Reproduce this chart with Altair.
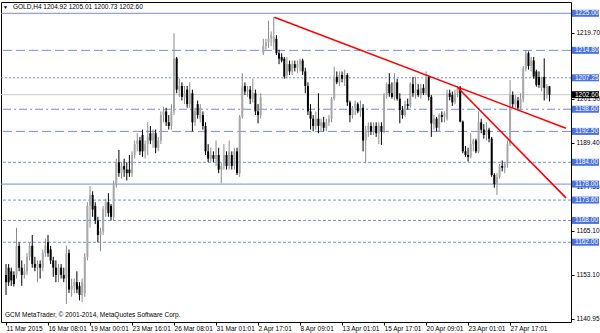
import json
import altair as alt
import pandas as pd

# ---------------- data ----------------
opens = [
    1153, 1155, 1154, 1153, 1153, 1161, 1155, 1153, 1154, 1158, 1161, 1156, 1155, 1156, 1155, 1159,
    1162, 1160, 1157, 1155, 1153, 1155, 1153, 1152, 1159, 1149, 1150, 1151, 1150, 1147.5, 1148, 1158,
    1172, 1175, 1172, 1168, 1164, 1165, 1171, 1173, 1172, 1169, 1178, 1184, 1181, 1183, 1182, 1182,
    1181, 1186, 1189, 1190, 1191.5, 1187, 1189, 1192, 1190, 1192, 1188, 1190, 1197, 1198, 1195, 1194,
    1198, 1212.6, 1204, 1205, 1202, 1204, 1200, 1203, 1195, 1200, 1196, 1197, 1194, 1187, 1185, 1186,
    1185, 1186, 1182, 1183, 1186, 1183, 1186, 1183, 1187, 1181, 1196.5, 1205, 1203.5, 1204, 1201.5, 1203,
    1198, 1197, 1214, 1216, 1217, 1218, 1217, 1218, 1214, 1213, 1212.5, 1208, 1211, 1209, 1211, 1210,
    1211, 1212, 1209, 1205, 1198, 1196, 1194, 1196, 1194, 1195, 1193.5, 1195, 1196, 1201.5, 1207.5, 1206,
    1208, 1207, 1208, 1200.5, 1197, 1199, 1200, 1198, 1199, 1190, 1193, 1194, 1192.5, 1194, 1192, 1194,
    1192.5, 1202.5, 1205.5, 1203, 1202, 1206, 1201.5, 1198.4, 1197, 1200, 1199.5, 1205.5, 1203, 1204, 1202.5, 1204.5,
    1203, 1207.5, 1202, 1194.5, 1196, 1193.5, 1197, 1196.5, 1196, 1203, 1202.5, 1200.5, 1203, 1204.5, 1195.2, 1187,
    1186, 1185.5, 1189, 1190, 1187, 1195, 1193, 1191.5, 1193, 1190.5, 1180.5, 1178, 1180, 1183, 1182.5, 1183.5,
    1189, 1202.5, 1200, 1201, 1199, 1201.5, 1209.8, 1214, 1210.5, 1212, 1209, 1207.5, 1204.5, 1207.5, 1202.5, 1204.92,
]
highs = [
    1156, 1156, 1155, 1154, 1166, 1162, 1157, 1156, 1159, 1162, 1164, 1158, 1157, 1157, 1160, 1163,
    1164, 1161, 1158, 1157, 1156, 1156, 1155, 1161, 1160, 1152, 1152, 1154, 1151, 1152, 1159, 1173,
    1177.5, 1176, 1173, 1169, 1166, 1172, 1174, 1175.5, 1172.5, 1179, 1185, 1187.4, 1184, 1185, 1184, 1186,
    1187, 1190, 1192, 1191, 1193, 1190, 1195, 1194, 1193, 1193, 1191, 1198, 1199.3, 1199, 1197, 1200,
    1219.5, 1213, 1207, 1206, 1205, 1205, 1206, 1204, 1199, 1201, 1200, 1198, 1195, 1189, 1188, 1187,
    1190, 1188, 1184, 1189, 1187, 1190, 1187, 1188, 1188, 1197, 1208.5, 1206, 1205, 1205, 1207, 1204,
    1200, 1203, 1218, 1218, 1223, 1220, 1224, 1219, 1215, 1214, 1213, 1213, 1212, 1212, 1212, 1212,
    1212.5, 1212.5, 1210, 1206, 1200, 1197, 1198, 1203, 1196, 1196.5, 1196, 1197, 1202, 1210.3, 1209, 1209,
    1209, 1209.5, 1208.5, 1201, 1199.5, 1201, 1200.5, 1201, 1200, 1194, 1195, 1195, 1195, 1195, 1195, 1195,
    1203, 1206, 1208.5, 1206, 1208.5, 1207, 1203, 1199.5, 1201, 1201.5, 1206, 1207.5, 1207.6, 1205.5, 1205.5, 1205.5,
    1209, 1208, 1202.5, 1197, 1196.5, 1197.5, 1198, 1198, 1204, 1204, 1203.5, 1204, 1205, 1205, 1195.5, 1188.5,
    1188, 1192, 1190.5, 1190.5, 1198, 1196, 1194.5, 1195, 1193.5, 1191, 1181, 1181, 1183.5, 1184.5, 1184, 1190,
    1206.6, 1203.5, 1202.5, 1202, 1203, 1210.5, 1214.9, 1214.5, 1213, 1213, 1209.5, 1209, 1207.5, 1212.6, 1205.5, 1205.01,
]
lows = [
    1147.5, 1150, 1150, 1149.8, 1152, 1154, 1150, 1152, 1153, 1157, 1155, 1154, 1151, 1152, 1154, 1158,
    1158, 1156, 1152.5, 1151, 1151, 1152, 1151, 1145, 1148, 1147, 1148, 1148, 1146, 1145.5, 1147, 1157,
    1166, 1169, 1167, 1162, 1159.5, 1164, 1169, 1169, 1168, 1168, 1177, 1180, 1179.5, 1180, 1179, 1180,
    1180, 1185, 1187, 1186, 1185.5, 1185, 1186, 1189, 1188, 1186.5, 1187, 1189, 1195, 1194, 1193, 1193,
    1197, 1203, 1202, 1201, 1200, 1199, 1199, 1192.5, 1194, 1196, 1195, 1193, 1186, 1184, 1184, 1184,
    1183, 1181, 1178.2, 1182, 1182, 1182, 1182, 1182, 1180.5, 1180, 1196, 1202.5, 1202, 1200, 1200.5, 1197,
    1194.7, 1196, 1213.5, 1215, 1215.5, 1216, 1215, 1213.5, 1211, 1211.5, 1207, 1207, 1208, 1208, 1209, 1208.5,
    1209, 1208, 1203, 1197, 1193, 1192.5, 1193, 1192, 1192.5, 1192.5, 1192.5, 1194, 1195, 1201, 1205.5, 1205,
    1206, 1205, 1199.5, 1195, 1196, 1197, 1197.5, 1196.5, 1187, 1183.7, 1191, 1191.5, 1191.5, 1191, 1189, 1188.8,
    1192, 1201.5, 1202, 1201.5, 1201, 1201, 1194.7, 1196, 1196.5, 1198.5, 1199, 1202, 1201.5, 1202, 1201.5, 1202.5,
    1202.5, 1201, 1191, 1193, 1192.5, 1192.4, 1195, 1195, 1195.5, 1201, 1199.5, 1200, 1202, 1195, 1186.5, 1185.5,
    1184.2, 1185, 1187, 1186.5, 1186.5, 1192, 1190.5, 1190, 1189.5, 1180, 1177, 1175, 1179.5, 1181.5, 1181, 1182.5,
    1188.5, 1199, 1199, 1198.5, 1198.5, 1200.5, 1209, 1209.5, 1209, 1207, 1204.8, 1204.5, 1203.5, 1201, 1201.5, 1200.73,
]
closes = [
    1151, 1151, 1151.5, 1150.5, 1161, 1155, 1153, 1154, 1158, 1161, 1156, 1155, 1156, 1155, 1159, 1161,
    1159, 1157, 1155, 1153, 1155, 1153, 1152, 1159, 1149, 1150, 1151, 1149, 1147.5, 1151, 1158, 1172,
    1175, 1171, 1168, 1164, 1165, 1171, 1173, 1170, 1169, 1178, 1184, 1181, 1183, 1182, 1181, 1181,
    1186, 1189, 1190, 1187, 1187, 1189, 1191, 1190, 1192, 1188, 1190, 1197, 1198, 1195, 1194, 1198,
    1212.6, 1204, 1205, 1202, 1203, 1200, 1203, 1195, 1198, 1197, 1199, 1194, 1187, 1185, 1186, 1185,
    1186, 1182, 1183, 1186, 1183, 1187, 1183, 1187, 1181, 1196.5, 1204.8, 1203.5, 1204, 1201.5, 1203, 1198,
    1197, 1202, 1216, 1217, 1218, 1219, 1218.5, 1214, 1212.5, 1212, 1207.6, 1211, 1209, 1211, 1210, 1211,
    1212, 1209, 1205, 1198, 1196, 1194, 1196, 1194, 1195, 1193.5, 1195, 1196, 1201.5, 1207.5, 1206, 1208,
    1207, 1208, 1200.5, 1197, 1199, 1200, 1198, 1199, 1190, 1193, 1194, 1192.5, 1194, 1192, 1194, 1192.5,
    1202.5, 1205.5, 1203, 1202, 1206, 1201.5, 1198.4, 1197, 1200, 1199.5, 1205.5, 1203, 1204, 1202.5, 1204.5, 1203,
    1207.5, 1202, 1194.7, 1196, 1193.5, 1197, 1196.5, 1197.5, 1203, 1202, 1200.5, 1203, 1204.5, 1195.2, 1187, 1186,
    1185.5, 1189, 1190, 1187, 1195, 1193, 1191.5, 1193, 1190.5, 1180.5, 1178, 1180, 1183, 1182.5, 1183.5, 1189,
    1202.5, 1200, 1201.5, 1199, 1201.5, 1209.8, 1214, 1210.5, 1212, 1207.6, 1205.3, 1205.3, 1207.5, 1204.5, 1204.9, 1202.60,
]

tick_labels = ["11 Mar 2015", "16 Mar 08:01", "19 Mar 00:01", "23 Mar 16:01", "26 Mar 08:01",
               "31 Mar 01:01", "2 Apr 17:01", "8 Apr 09:01", "13 Apr 01:01", "15 Apr 17:01",
               "20 Apr 09:01", "23 Apr 01:01", "27 Apr 17:01"]
tick_bars = [0, 16, 32, 48, 64, 80, 96, 112, 128, 144, 160, 176, 192]

y_ticks = [1219.70, 1213.55, 1201.50, 1195.40, 1189.40, 1183.40, 1177.35, 1171.25,
           1165.10, 1159.10, 1153.10, 1146.95, 1140.95]

solid_levels = [1225.00, 1178.00]
dashed_levels = [1214.80, 1192.50]
dashdot_levels = [1198.60]
fine_dotted_levels = [1207.25]
dotted_levels = [1184.00, 1173.60, 1168.00, 1162.00]
current_price = [1202.60]

trend1_bar = [102.2, 213.3]
trend1_price = [1223.9, 1193.35]
trend2_bar = [172.2, 213.3]
trend2_price = [1204.45, 1174.2]

header_text = "GOLD,H4  1204.92 1205.01 1200.73 1202.60"
footer_text = "GCM MetaTrader, \u00a9 2001-2014, MetaQuotes Software Corp."

# ---------------- chart ----------------
FONT = "Liberation Sans"
FS = 6.5
LEVEL_BLUE = "#6f8fe9"
BOX_BLUE = "#4a72e0"

df = pd.DataFrame({"bar": list(range(len(opens))), "open": opens, "high": highs,
                   "low": lows, "close": closes})

xs = alt.Scale(domain=[0, 213.3], nice=False, zero=False)
ys = alt.Scale(domain=[1140.05, 1228.11], nice=False, zero=False)

label_expr = json.dumps(tick_labels) + "[round(datum.value / 16)]"
x_axis = alt.Axis(values=tick_bars, labelExpr=label_expr, labelAlign="left", labelBaseline="top",
                  labelFont=FONT, labelFontSize=FS, labelColor="black", tickSize=3, tickColor="black",
                  domain=False, grid=False, labelPadding=0, title=None,
                  labelFlush=False, labelOverlap=False)
y_axis = alt.Axis(orient="right", values=y_ticks, format=".2f", labelFont=FONT, labelFontSize=FS,
                  labelColor="black", tickSize=3, tickColor="black", labelPadding=2, domain=False,
                  grid=False, title=None, labelOverlap=False, labelFlush=False)

def level_layer(values, dash=None, color=LEVEL_BLUE):
    kw = {"color": color, "strokeWidth": 1}
    if dash:
        kw["strokeDash"] = dash
    return alt.Chart(pd.DataFrame({"price": values})).mark_rule(**kw).encode(
        y=alt.Y("price:Q", scale=ys))

levels = [
    level_layer(current_price, color="#c8c8c8"),
    level_layer(solid_levels),
    level_layer(dashed_levels, [9, 4]),
    level_layer(dashdot_levels, [8, 3, 2, 3]),
    level_layer(fine_dotted_levels, [2, 2]),
    level_layer(dotted_levels, [3, 2]),
]

up = "datum.close >= datum.open"
wicks = alt.Chart(df).mark_rule(strokeWidth=1).encode(
    x=alt.X("bar:Q", scale=xs, axis=x_axis),
    y=alt.Y("low:Q", scale=ys, axis=y_axis),
    y2="high:Q",
    color=alt.condition(up, alt.value("#8c8c8c"), alt.value("#000000")),
)
bodies = alt.Chart(df).mark_bar(size=2).encode(
    x=alt.X("bar:Q", scale=xs),
    y=alt.Y("open:Q", scale=ys),
    y2="close:Q",
    color=alt.condition(up, alt.value("#a8a8a8"), alt.value("#000000")),
)

t1 = alt.Chart(pd.DataFrame({"bar": trend1_bar, "price": trend1_price})).mark_line(
    color="#ff0000", strokeWidth=1.6).encode(x=alt.X("bar:Q", scale=xs), y=alt.Y("price:Q", scale=ys))
t2 = alt.Chart(pd.DataFrame({"bar": trend2_bar, "price": trend2_price})).mark_line(
    color="#ff0000", strokeWidth=1.6).encode(x=alt.X("bar:Q", scale=xs), y=alt.Y("price:Q", scale=ys))

all_levels = solid_levels + dashed_levels + dashdot_levels + fine_dotted_levels + dotted_levels
lvl_df = pd.DataFrame({"price": all_levels})
boxes = alt.Chart(lvl_df).mark_rect(color=BOX_BLUE, yOffset=-3.5, y2Offset=3.5, clip=False).encode(
    y=alt.Y("price:Q", scale=ys), y2="price:Q", x=alt.value(571), x2=alt.value(598))
box_text = alt.Chart(lvl_df).mark_text(align="left", baseline="middle", font=FONT, fontSize=FS,
                                       color="white").encode(
    y=alt.Y("price:Q", scale=ys), x=alt.value(574), text=alt.Text("price:Q", format=".2f"))

cur_df = pd.DataFrame({"price": current_price})
cur_box = alt.Chart(cur_df).mark_rect(color="#000000", yOffset=-3.5, y2Offset=3.5, clip=False).encode(
    y=alt.Y("price:Q", scale=ys), y2="price:Q", x=alt.value(571), x2=alt.value(598))
cur_text = alt.Chart(cur_df).mark_text(align="left", baseline="middle", font=FONT, fontSize=FS,
                                       color="white").encode(
    y=alt.Y("price:Q", scale=ys), x=alt.value(574), text=alt.Text("price:Q", format=".2f"))

hdr_df = pd.DataFrame({"t": [header_text]})
header = alt.Chart(hdr_df).mark_text(align="left", baseline="middle", font=FONT, fontSize=FS,
                                     color="black").encode(
    x=alt.value(12), y=alt.value(5), text="t:N")
tri = alt.Chart(pd.DataFrame({"t": ["\u25bc"]})).mark_text(align="left", baseline="middle",
                                                           fontSize=5, color="black").encode(
    x=alt.value(2), y=alt.value(5), text="t:N")
footer = alt.Chart(pd.DataFrame({"t": [footer_text]})).mark_text(
    align="left", baseline="middle", font=FONT, fontSize=FS, color="black").encode(
    x=alt.value(4), y=alt.value(313), text="t:N")

chart = alt.layer(
    *levels, wicks, bodies, t1, t2, boxes, box_text, cur_box, cur_text, header, tri, footer
).properties(
    width=570, height=320,
    autosize=alt.AutoSizeParams(type="none"),
    padding={"left": 1, "top": 2, "right": 29, "bottom": 11},
    background="white",
).configure_view(stroke="#000000", strokeWidth=1)

chart.save("out.html", embed_options={"renderer": "svg", "actions": False})
